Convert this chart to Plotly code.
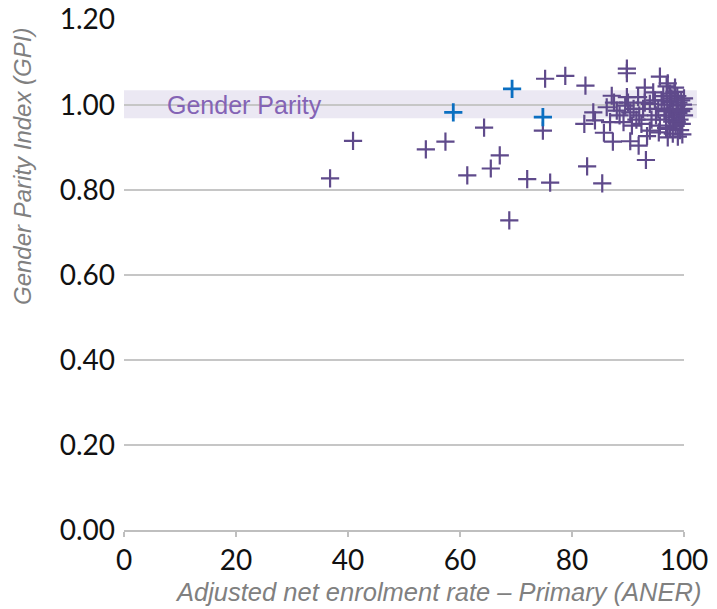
import plotly.graph_objects as go

# Purple series (countries)
aner_purple = [36.8, 40.9, 53.9, 57.4, 61.3, 64.3, 65.5, 67.1, 68.8, 72.0, 74.8, 75.2, 76.1, 78.8,
               82.4, 82.7, 82.2, 85.4, 83.8, 84.1, 85.7, 86.8, 87.1, 87.3, 86.2, 88.0, 89.5, 89.8,
               89.8, 89.8, 89.2, 90.4, 90.4, 90.7, 91.8, 91.9, 92.4, 92.7, 93.0, 93.2, 93.4, 93.9,
               93.9, 94.5, 95.4, 95.7, 95.7, 96.9, 97.1, 97.1, 97.5, 97.5, 97.5, 98.0, 98.7, 98.7,
               99.9, 96.0, 96.5, 96.8, 97.0, 97.3, 97.8, 98.0, 98.2, 98.3, 98.5, 98.8, 99.0, 99.0,
               99.2, 99.3, 99.5, 99.5, 99.6, 99.8, 100.0, 98.4, 97.6, 96.3, 95.0, 94.8, 94.2, 95.5,
               96.8, 98.9, 99.7, 100.0, 97.9, 91.0, 90.0, 88.5, 87.5, 92.0, 93.0, 91.5]
gpi_purple = [0.827, 0.915, 0.895, 0.913, 0.834, 0.946, 0.850, 0.881, 0.728, 0.825, 0.939, 1.061, 0.817, 1.068,
              1.045, 0.855, 0.955, 0.815, 0.982, 0.963, 0.934, 0.959, 1.021, 0.913, 0.994, 0.986, 0.998, 1.018,
              1.085, 1.074, 0.959, 0.982, 0.914, 0.951, 1.018, 0.904, 0.955, 0.990, 1.040, 0.870, 0.926, 1.002,
              0.939, 1.029, 0.990, 1.066, 0.951, 1.043, 1.050, 0.923, 1.026, 1.006, 0.943, 0.932, 0.998, 0.959,
              0.990, 1.010, 0.985, 0.965, 1.000, 0.975, 1.015, 0.990, 0.970, 1.030, 0.950, 1.020, 0.980, 1.005,
              0.965, 0.940, 1.010, 0.985, 0.955, 1.000, 0.975, 1.040, 0.990, 1.020, 0.975, 1.010, 0.965, 0.935,
              0.945, 0.925, 0.930, 1.015, 0.960, 0.990, 1.005, 0.975, 1.005, 0.975, 1.005, 0.965]

# Highlighted (blue) series
aner_blue = [58.8, 69.3, 74.8]
gpi_blue = [0.982, 1.037, 0.971]

# Gender parity band
parity_low = 0.968
parity_high = 1.034
parity_value = 1.0

x_ticks = [0, 20, 40, 60, 80, 100]
y_ticks = [0.0, 0.2, 0.4, 0.6, 0.8, 1.0, 1.2]

purple = "#5f4a8b"
blue = "#0b6fc1"

fig = go.Figure()
fig.add_trace(go.Scatter(
    x=aner_purple, y=gpi_purple, mode="markers", cliponaxis=False,
    marker=dict(symbol="cross-thin", size=13, line=dict(width=2.2, color=purple), color=purple),
    showlegend=False, hoverinfo="x+y"))
fig.add_trace(go.Scatter(
    x=aner_blue, y=gpi_blue, mode="markers", cliponaxis=False,
    marker=dict(symbol="cross-thin", size=13, line=dict(width=2.8, color=blue), color=blue),
    showlegend=False, hoverinfo="x+y"))

fig.add_shape(type="rect", xref="paper", yref="y", x0=0, x1=1.023, y0=parity_low, y1=parity_high,
              fillcolor="#ebe8f3", line=dict(width=0), layer="below")
fig.add_shape(type="line", xref="paper", yref="y", x0=0, x1=1.023, y0=parity_value, y1=parity_value,
              line=dict(color="#aaa4b8", width=1.5), layer="below")

fig.add_annotation(x=7.4, y=parity_value, xref="x", yref="y", text="Gender Parity", showarrow=False,
                   xanchor="left", yanchor="middle",
                   font=dict(family="Liberation Sans, Arial", size=25, color="#8463b5"))

fig.add_annotation(x=(22 - 124) / 560, y=(530 - 167) / 511, xref="paper", yref="paper",
                   text="<i>Gender Parity Index (GPI)</i>", showarrow=False, textangle=-90,
                   xanchor="center", yanchor="middle",
                   font=dict(family="Liberation Sans, Arial", size=24, color="#808080"))
fig.add_annotation(x=(438 - 124) / 560, y=-(592 - 530) / 511, xref="paper", yref="paper",
                   text="<i>Adjusted net enrolment rate – Primary (ANER)</i>", showarrow=False,
                   xanchor="center", yanchor="middle",
                   font=dict(family="Liberation Sans, Arial", size=25.5, color="#808080"))

fig.update_layout(
    width=717, height=609,
    margin=dict(l=124, r=33, t=19, b=79),
    plot_bgcolor="white", paper_bgcolor="white",
    xaxis=dict(range=[0, 100], tickvals=x_ticks, showgrid=False, zeroline=False,
               showline=True, linecolor="#bfbfbf", linewidth=1.5, automargin=False,
               ticks="outside", ticklen=5, tickcolor="#bfbfbf", tickwidth=1.5,
               tickfont=dict(family="Lato", size=28, color="#111111")),
    yaxis=dict(range=[0, 1.2015], tickvals=y_ticks, tickformat=".2f", showgrid=True,
               gridcolor="#c6c6c6", gridwidth=1.5, zeroline=False, showline=False,
               ticks="", ticklabelstandoff=8, automargin=False, ticklabeloverflow="allow",
               tickfont=dict(family="Lato", size=28, color="#111111")),
)

fig.write_html("out.html", config={"displayModeBar": False},
               post_script="document.body.style.margin='0';document.body.style.overflow='hidden';")
